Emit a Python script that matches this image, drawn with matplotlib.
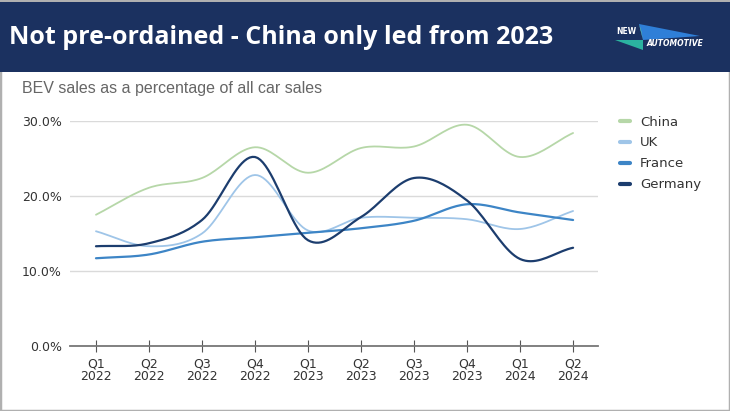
import numpy as np
import matplotlib.pyplot as plt
from matplotlib.patches import Rectangle, Polygon
from matplotlib.ticker import FuncFormatter

quarters = ['Q1\n2022', 'Q2\n2022', 'Q3\n2022', 'Q4\n2022', 'Q1\n2023',
            'Q2\n2023', 'Q3\n2023', 'Q4\n2023', 'Q1\n2024', 'Q2\n2024']
china = [17.5, 21.1, 22.4, 26.5, 23.1, 26.4, 26.6, 29.5, 25.2, 28.4]
uk = [15.3, 13.3, 15.0, 22.8, 15.4, 17.1, 17.1, 16.9, 15.6, 18.0]
france = [11.7, 12.2, 13.9, 14.5, 15.1, 15.7, 16.7, 18.9, 17.8, 16.8]
germany = [13.3, 13.7, 16.8, 25.2, 14.1, 17.2, 22.4, 19.4, 11.6, 13.1]

series = [('China', china, '#b6d7a8'), ('UK', uk, '#9fc5e8'),
          ('France', france, '#3d85c6'), ('Germany', germany, '#1c3d6e')]

def smooth(y, n=20):
	# catmull-rom through the points, just for drawing
	y = np.asarray(y, float)
	p = np.concatenate([[2*y[0]-y[1]], y, [2*y[-1]-y[-2]]])
	xs, ys = [], []
	for i in range(len(y)-1):
		t = np.linspace(0, 1, n, endpoint=False)
		p0, p1, p2, p3 = p[i], p[i+1], p[i+2], p[i+3]
		yy = 0.5*((2*p1) + (-p0+p2)*t + (2*p0-5*p1+4*p2-p3)*t**2 + (-p0+3*p1-3*p2+p3)*t**3)
		xs.extend(i+t)
		ys.extend(yy)
	xs.append(len(y)-1)
	ys.append(y[-1])
	return np.array(xs), np.array(ys)

fig = plt.figure(figsize=(7.3, 4.11), dpi=100)
fig.patch.set_facecolor('white')

# header band
fig.patches.append(Rectangle((0, 0), 1, 1, transform=fig.transFigure, fill=False,
                             edgecolor='#b0b0b0', linewidth=2.5))
fig.patches.append(Rectangle((0, 1-72/411), 1, 70/411, transform=fig.transFigure,
                             facecolor='#1b3160', edgecolor='none'))
fig.text(9/730, 1-37/411, 'Not pre-ordained - China only led from 2023', color='white',
         fontsize=18, fontweight='bold', family='Open Sans', va='center', ha='left')

# logo
fig.patches.append(Polygon([(639/730, 1-24/411), (700/730, 1-36/411), (643/730, 1-40/411)],
                           closed=True, transform=fig.transFigure, facecolor='#2f7fd8', edgecolor='none'))
fig.patches.append(Polygon([(615/730, 1-40/411), (643/730, 1-40/411), (643/730, 1-50/411)],
                           closed=True, transform=fig.transFigure, facecolor='#2bb3a0', edgecolor='none'))
fig.patches.append(Polygon([(639/730, 1-24/411), (643/730, 1-40/411), (641/730, 1-30/411)],
                           closed=True, transform=fig.transFigure, facecolor='#6fe0a0', edgecolor='none'))
fig.text(616/730, 1-31/411, 'NEW', color='white', fontsize=5.5, fontweight='bold', va='center')
fig.text(647/730, 1-44/411, 'AUTOMOTIVE', color='white', fontsize=5.5, fontweight='bold',
         style='italic', va='center')

fig.text(22/730, 1-88/411, 'BEV sales as a percentage of all car sales', color='#666666',
         fontsize=11.5, family='Liberation Sans', va='center', ha='left')

ax = fig.add_axes([70/730, 65/411, 528/730, 225/411])
for name, vals, col in series:
	sx, sy = smooth(vals)
	lw = 1.3 if name in ('China', 'UK') else 1.6
	ax.plot(sx, sy, color=col, linewidth=lw, label=name, solid_capstyle='round')

ax.set_ylim(0, 30)
ax.set_xlim(-0.49, 9.47)
ax.set_yticks([0, 10, 20, 30])
ax.yaxis.set_major_formatter(FuncFormatter(lambda v, p: '%.1f%%' % v))
ax.set_xticks(range(len(quarters)))
ax.set_xticklabels(quarters, linespacing=1.0)
ax.grid(axis='y', color='#dadada', linewidth=1)
ax.set_axisbelow(True)
for s in ['top', 'right', 'left']:
	ax.spines[s].set_visible(False)
ax.spines['bottom'].set_color('#777777')
ax.spines['bottom'].set_linewidth(1.3)
ax.tick_params(axis='y', length=0, labelsize=9, labelcolor='#333333', pad=6)
ax.tick_params(axis='x', direction='inout', length=8, width=0.8, color='#555555',
               labelsize=9, labelcolor='#333333', pad=4)
for lab in ax.get_xticklabels() + ax.get_yticklabels():
	lab.set_family('Liberation Sans Narrow')

leg = ax.legend(loc='upper left', bbox_to_anchor=(1.02, 1.077), frameon=False,
                handlelength=0.7, handletextpad=0.8, labelspacing=0.6, fontsize=9.5)
for h in leg.get_lines():
	h.set_linewidth(3)
for t in leg.get_texts():
	t.set_color('#333333')

plt.savefig('out.png', dpi=100)
